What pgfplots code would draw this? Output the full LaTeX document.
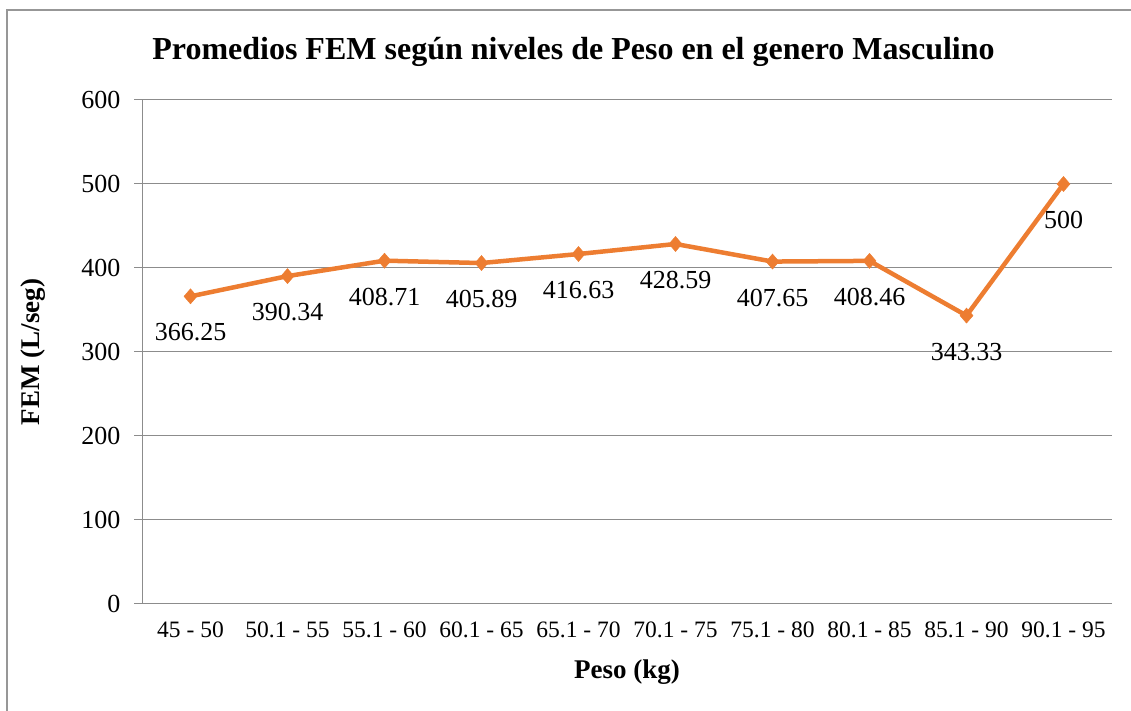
\documentclass[border=0pt]{standalone}
\usepackage{fontspec}
\setmainfont{Liberation Serif}
\usepackage{pgfplots}
\pgfplotsset{compat=1.18}
\definecolor{lineor}{HTML}{ED7D31}
\definecolor{gridg}{HTML}{8C8C8C}
\begin{document}
\begin{tikzpicture}[x=1pt,y=1pt]
\useasboundingbox (0,0) rectangle (1131,711);
\draw[gridg!90, line width=1.5pt] (7,-5) -- (7,701) -- (1140,701);
\node[font=\bfseries\fontsize{32}{32}\selectfont] at (573.5,659) {Promedios FEM según niveles de Peso en el genero Masculino};
\begin{axis}[
  at={(142pt,107pt)}, anchor=south west,
  scale only axis, width=970pt, height=504pt,
  xmin=-0.5, xmax=9.5, ymin=0, ymax=600,
  ytick={0,100,...,600},
  xtick={0,...,9},
  xticklabels={45 - 50, 50.1 - 55, 55.1 - 60, 60.1 - 65, 65.1 - 70, 70.1 - 75, 75.1 - 80, 80.1 - 85, 85.1 - 90, 90.1 - 95},
  axis x line=bottom, axis y line=left,
  axis line style={gridg, line width=1pt, -},
  ymajorgrids, grid style={gridg, line width=1pt},
  x tick style={draw=none},
  y tick style={gridg, line width=1pt},
  tick align=outside, major tick length=8pt,
  yticklabel style={font=\fontsize{26}{26}\selectfont, xshift=-10pt},
  xticklabel style={font=\fontsize{23.5}{23.5}\selectfont, yshift=-6pt},
  /pgf/number format/assume math mode=true,
  xlabel={Peso (kg)}, ylabel={FEM (L/seg)},
  x label style={font=\bfseries\fontsize{27}{27}\selectfont, at={(axis description cs:0.5,-0.135)}, anchor=center},
  y label style={font=\bfseries\fontsize{27}{27}\selectfont, at={(axis description cs:-0.112,0.5)}, anchor=center},
  clip=false,
  nodes near coords, point meta=explicit symbolic,
  every node near coord/.append style={font=\fontsize{26}{26}\selectfont, text=black, anchor=center, yshift=-36pt},
]
\addplot[lineor, line width=4.5pt, mark=diamond*, mark size=7.5pt, mark options={fill=lineor, line width=0.5pt, xscale=1.15}]
coordinates {
 (0,366.25) [366.25]
 (1,390.34) [390.34]
 (2,408.71) [408.71]
 (3,405.89) [405.89]
 (4,416.63) [416.63]
 (5,428.59) [428.59]
 (6,407.65) [407.65]
 (7,408.46) [408.46]
 (8,343.33) [343.33]
 (9,500) [500]
};
\end{axis}
\end{tikzpicture}
\end{document}
